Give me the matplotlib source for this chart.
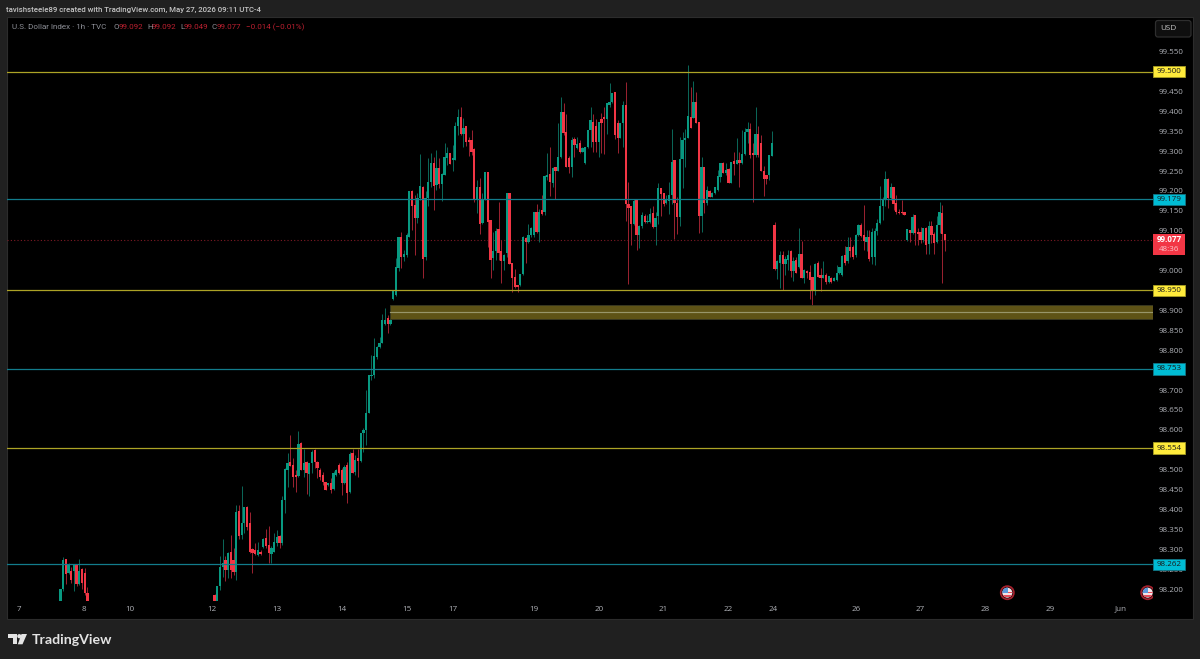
import matplotlib
matplotlib.use('Agg')
import matplotlib.pyplot as plt
import numpy as np
from matplotlib.patches import Circle, FancyBboxPatch, Polygon, Rectangle

# May 7-8 session, hourly bars
start_a = -59
opens_a = [98.168, 98.199, 98.275, 98.240, 98.246, 98.246, 98.263, 98.213, 98.250, 98.240, 98.189]
highs_a = [98.200, 98.281, 98.275, 98.266, 98.255, 98.262, 98.263, 98.275, 98.252, 98.252, 98.206]
lows_a = [98.168, 98.195, 98.213, 98.238, 98.215, 98.194, 98.208, 98.210, 98.199, 98.185, 98.168]
closes_a = [98.199, 98.273, 98.238, 98.263, 98.223, 98.260, 98.213, 98.246, 98.215, 98.189, 98.168]

# May 12 onward, hourly bars
start_b = -2
opens_b = [
    98.185, 98.168, 98.208, 98.255, 98.273, 98.248, 98.294, 98.273, 98.244, 98.397,
    98.336, 98.367, 98.407, 98.365, 98.300, 98.297, 98.286, 98.294, 98.305, 98.327,
    98.311, 98.288, 98.294, 98.315, 98.333, 98.315, 98.424, 98.499, 98.518, 98.512,
    98.486, 98.484, 98.568, 98.499, 98.520, 98.489, 98.516, 98.549, 98.520, 98.499,
    98.486, 98.470, 98.461, 98.466, 98.451, 98.487, 98.512, 98.499, 98.467, 98.512,
    98.445, 98.541, 98.495, 98.528, 98.522, 98.591, 98.600, 98.643, 98.735, 98.738,
    98.784, 98.807, 98.819, 98.866, 98.880, 98.866,
    98.928, 98.939, 99.006, 99.084, 99.033, 99.039, 99.085, 99.201, 99.165, 99.131,
    99.182, 99.211, 99.035, 99.182, 99.223, 99.271, 99.215, 99.257, 99.218, 99.240,
    99.282, 99.295, 99.278, 99.278, 99.364, 99.385, 99.343, 99.362, 99.328, 99.328,
    99.305, 99.177, 99.211, 99.119, 99.177, 99.247, 99.127, 99.031, 99.048, 99.104,
    99.048, 99.023, 99.044, 99.194, 99.020, 98.985, 98.964, 98.964, 98.991, 99.081,
    99.073, 99.090, 99.090, 99.146, 99.098, 99.151, 99.146, 99.234, 99.243, 99.221,
    99.259, 99.249, 99.285, 99.399, 99.349, 99.282, 99.259, 99.330, 99.307, 99.320,
    99.299, 99.270, 99.310, 99.352, 99.374, 99.362, 99.322, 99.382, 99.385, 99.380,
    99.416, 99.423, 99.448, 99.370, 99.332, 99.370,
    99.416, 99.167, 99.161, 99.117, 99.177, 99.090, 99.112, 99.138, 99.121, 99.121,
    99.144, 99.110, 99.137, 99.207, 99.196, 99.169, 99.175, 99.190, 99.278, 99.169,
    99.134, 99.280, 99.328, 99.332, 99.387, 99.383, 99.424, 99.372, 99.137, 99.259,
    99.169, 99.201, 99.186, 99.194, 99.203, 99.236, 99.269, 99.244, 99.254, 99.221,
    99.275, 99.268, 99.278, 99.270, 99.293, 99.349, 99.355, 99.295, 99.290, 99.343,
    99.320, 99.251, 99.240, 99.240, 99.288,
    99.115, 99.003, 99.020, 99.039, 99.017, 99.027, 99.050, 99.000, 99.027, 99.008,
    99.042, 98.981, 99.000, 98.997, 98.983, 98.951, 99.020, 98.989, 98.981, 98.989,
    98.972, 98.981, 98.975, 98.977, 98.993, 98.989, 99.039, 99.023, 99.060, 99.060,
    99.038, 99.090, 99.115, 99.090, 99.073, 99.085, 99.033, 99.035, 99.100, 99.120,
    99.161, 99.179, 99.229, 99.182, 99.209, 99.171, 99.148, 99.148, 99.146,
    99.077, 99.102, 99.095, 99.140, 99.098, 99.097, 99.077, 99.108, 99.067, 99.112,
    99.092, 99.071, 99.115, 99.144, 99.092,
]
highs_b = [
    98.187, 98.208, 98.283, 98.325, 98.283, 98.294, 98.336, 98.302, 98.411, 98.411,
    98.459, 98.407, 98.408, 98.394, 98.302, 98.315, 98.319, 98.297, 98.328, 98.350,
    98.358, 98.307, 98.340, 98.348, 98.336, 98.434, 98.503, 98.541, 98.587, 98.528,
    98.499, 98.598, 98.570, 98.553, 98.522, 98.516, 98.549, 98.551, 98.522, 98.503,
    98.495, 98.470, 98.467, 98.478, 98.496, 98.502, 98.516, 98.503, 98.511, 98.520,
    98.545, 98.553, 98.537, 98.553, 98.591, 98.604, 98.700, 98.737, 98.788, 98.830,
    98.811, 98.834, 98.891, 98.905, 98.888, 98.880,
    98.951, 99.031, 99.085, 99.096, 99.052, 99.094, 99.200, 99.203, 99.190, 99.194,
    99.293, 99.213, 99.201, 99.282, 99.295, 99.286, 99.303, 99.282, 99.244, 99.320,
    99.310, 99.295, 99.315, 99.372, 99.405, 99.410, 99.383, 99.363, 99.335, 99.352,
    99.307, 99.228, 99.232, 99.194, 99.247, 99.247, 99.127, 99.098, 99.106, 99.172,
    99.077, 99.041, 99.194, 99.194, 99.020, 99.004, 98.964, 98.991, 99.087, 99.085,
    99.117, 99.110, 99.148, 99.167, 99.154, 99.190, 99.240, 99.295, 99.311, 99.259,
    99.259, 99.370, 99.435, 99.420, 99.393, 99.288, 99.335, 99.336, 99.335, 99.328,
    99.311, 99.310, 99.353, 99.412, 99.393, 99.380, 99.374, 99.395, 99.410, 99.422,
    99.470, 99.445, 99.448, 99.378, 99.370, 99.427,
    99.473, 99.223, 99.161, 99.179, 99.177, 99.115, 99.146, 99.142, 99.140, 99.156,
    99.161, 99.148, 99.219, 99.208, 99.196, 99.190, 99.222, 99.355, 99.278, 99.186,
    99.335, 99.349, 99.355, 99.516, 99.460, 99.477, 99.448, 99.372, 99.285, 99.259,
    99.213, 99.203, 99.198, 99.211, 99.253, 99.271, 99.274, 99.270, 99.257, 99.274,
    99.299, 99.332, 99.299, 99.353, 99.357, 99.374, 99.370, 99.321, 99.412, 99.362,
    99.341, 99.263, 99.240, 99.290, 99.351,
    99.123, 99.027, 99.050, 99.048, 99.037, 99.052, 99.052, 99.035, 99.035, 99.106,
    99.075, 99.003, 99.002, 99.014, 98.985, 99.018, 99.023, 99.006, 99.023, 98.995,
    98.987, 98.983, 98.983, 99.014, 99.008, 99.039, 99.062, 99.085, 99.085, 99.064,
    99.091, 99.116, 99.119, 99.165, 99.102, 99.102, 99.106, 99.106, 99.129, 99.213,
    99.184, 99.251, 99.232, 99.219, 99.211, 99.190, 99.155, 99.177, 99.147,
    99.104, 99.102, 99.141, 99.140, 99.108, 99.110, 99.106, 99.110, 99.125, 99.125,
    99.098, 99.136, 99.173, 99.165, 99.092,
]
lows_b = [
    98.160, 98.165, 98.198, 98.231, 98.221, 98.227, 98.227, 98.235, 98.223, 98.325,
    98.325, 98.340, 98.348, 98.290, 98.240, 98.286, 98.283, 98.286, 98.302, 98.302,
    98.265, 98.265, 98.292, 98.307, 98.302, 98.311, 98.390, 98.457, 98.509, 98.457,
    98.445, 98.482, 98.499, 98.482, 98.439, 98.434, 98.491, 98.505, 98.478, 98.474,
    98.461, 98.449, 98.459, 98.441, 98.449, 98.484, 98.489, 98.436, 98.465, 98.415,
    98.441, 98.491, 98.487, 98.482, 98.520, 98.545, 98.562, 98.641, 98.725, 98.729,
    98.779, 98.805, 98.817, 98.863, 98.844, 98.864,
    98.925, 98.936, 99.000, 99.006, 99.023, 99.035, 99.085, 99.102, 99.039, 99.119,
    99.177, 98.981, 99.027, 99.161, 99.211, 99.152, 99.203, 99.207, 99.175, 99.240,
    99.265, 99.268, 99.251, 99.278, 99.341, 99.341, 99.311, 99.313, 99.288, 99.290,
    99.173, 99.144, 99.092, 99.117, 99.177, 99.060, 98.981, 99.002, 99.027, 99.027,
    98.970, 99.002, 99.035, 99.017, 98.947, 98.956, 98.946, 98.962, 98.989, 99.018,
    99.069, 99.085, 99.085, 99.094, 99.073, 99.140, 99.140, 99.228, 99.188, 99.211,
    99.179, 99.249, 99.282, 99.341, 99.259, 99.246, 99.236, 99.286, 99.305, 99.296,
    99.297, 99.268, 99.307, 99.311, 99.299, 99.299, 99.286, 99.295, 99.293, 99.343,
    99.412, 99.420, 99.330, 99.295, 99.332, 99.311,
    99.125, 98.967, 99.064, 99.115, 99.052, 99.056, 99.106, 99.119, 99.119, 99.119,
    99.106, 99.064, 99.117, 99.137, 99.162, 99.167, 99.142, 99.167, 99.079, 99.092,
    99.112, 99.207, 99.260, 99.332, 99.357, 99.383, 99.370, 99.094, 99.098, 99.144,
    99.165, 99.184, 99.184, 99.193, 99.201, 99.223, 99.244, 99.241, 99.219, 99.219,
    99.240, 99.268, 99.211, 99.268, 99.290, 99.320, 99.282, 99.173, 99.286, 99.286,
    99.249, 99.188, 99.218, 99.228, 99.288,
    99.002, 98.978, 98.956, 98.951, 98.989, 99.002, 98.985, 98.975, 98.993, 99.006,
    98.981, 98.970, 98.981, 98.928, 98.914, 98.939, 98.985, 98.949, 98.981, 98.967,
    98.970, 98.970, 98.973, 98.975, 98.992, 98.987, 99.014, 99.020, 99.035, 99.029,
    99.035, 99.087, 99.085, 99.052, 99.050, 99.025, 99.017, 99.014, 99.090, 99.117,
    99.127, 99.161, 99.156, 99.177, 99.152, 99.142, 99.143, 99.142, 99.139,
    99.074, 99.073, 99.092, 99.064, 99.064, 99.070, 99.073, 99.042, 99.042, 99.069,
    99.042, 99.069, 99.094, 98.970, 99.049,
]
closes_b = [
    98.165, 98.208, 98.256, 98.265, 98.248, 98.291, 98.248, 98.244, 98.393, 98.333,
    98.365, 98.405, 98.357, 98.294, 98.290, 98.288, 98.297, 98.288, 98.326, 98.307,
    98.290, 98.302, 98.317, 98.332, 98.315, 98.424, 98.502, 98.516, 98.509, 98.482,
    98.482, 98.564, 98.499, 98.516, 98.491, 98.516, 98.545, 98.520, 98.503, 98.482,
    98.470, 98.449, 98.466, 98.449, 98.492, 98.499, 98.491, 98.466, 98.507, 98.441,
    98.539, 98.491, 98.524, 98.522, 98.591, 98.600, 98.643, 98.737, 98.737, 98.785,
    98.809, 98.819, 98.876, 98.876, 98.866, 98.876,
    98.951, 99.008, 99.084, 99.033, 99.042, 99.090, 99.200, 99.161, 99.131, 99.182,
    99.213, 99.028, 99.182, 99.223, 99.269, 99.213, 99.257, 99.218, 99.243, 99.285,
    99.295, 99.268, 99.282, 99.364, 99.385, 99.343, 99.357, 99.324, 99.324, 99.299,
    99.177, 99.211, 99.117, 99.177, 99.247, 99.123, 99.027, 99.048, 99.100, 99.044,
    99.023, 99.039, 99.194, 99.017, 98.981, 98.960, 98.960, 98.991, 99.085, 99.073,
    99.090, 99.106, 99.146, 99.098, 99.148, 99.142, 99.238, 99.240, 99.223, 99.257,
    99.249, 99.285, 99.399, 99.345, 99.261, 99.261, 99.328, 99.316, 99.318, 99.299,
    99.309, 99.310, 99.352, 99.378, 99.322, 99.322, 99.372, 99.370, 99.380, 99.420,
    99.423, 99.445, 99.341, 99.332, 99.370, 99.416,
    99.167, 99.157, 99.117, 99.176, 99.090, 99.112, 99.140, 99.121, 99.124, 99.142,
    99.109, 99.131, 99.208, 99.192, 99.167, 99.177, 99.190, 99.274, 99.169, 99.134,
    99.280, 99.328, 99.332, 99.388, 99.359, 99.424, 99.370, 99.137, 99.259, 99.169,
    99.203, 99.186, 99.196, 99.209, 99.238, 99.269, 99.246, 99.253, 99.221, 99.274,
    99.268, 99.278, 99.270, 99.293, 99.349, 99.355, 99.290, 99.290, 99.343, 99.290,
    99.251, 99.229, 99.229, 99.290, 99.321,
    99.003, 99.025, 99.039, 99.017, 99.029, 99.039, 99.000, 99.024, 98.993, 99.042,
    98.981, 99.002, 98.993, 98.977, 98.951, 99.017, 98.985, 98.981, 98.989, 98.972,
    98.987, 98.972, 98.981, 98.995, 99.008, 99.037, 99.020, 99.060, 99.050, 99.035,
    99.090, 99.115, 99.087, 99.075, 99.085, 99.029, 99.098, 99.100, 99.120, 99.161,
    99.179, 99.229, 99.182, 99.211, 99.167, 99.146, 99.144, 99.144, 99.140,
    99.104, 99.095, 99.135, 99.094, 99.092, 99.077, 99.106, 99.064, 99.113, 99.090,
    99.069, 99.115, 99.146, 99.092, 99.077,
]

# horizontal levels
yellow_levels = [99.500, 98.950, 98.554]
cyan_levels = [99.179, 98.753, 98.262]
last_price = 99.077
countdown = '48:36'
zone_low = 98.878
zone_high = 98.914
zone_start = 63

# scale labels that the price tags do not sit on top of
price_ticks = [99.55, 99.45, 99.40, 99.35, 99.30, 99.25, 99.20, 99.15, 99.10, 99.00,
               98.90, 98.85, 98.80, 98.70, 98.65, 98.60, 98.50, 98.45, 98.40,
               98.35, 98.30, 98.25, 98.20]
time_ticks = [-74.3, -50.3, -33.3, -3, 21, 45, 69, 86, 116, 140, 164, 188, 204.4, 235, 259, 283, 307, 333]
time_labels = ['7', '8', '10', '12', '13', '14', '15', '17', '19', '20', '21', '22', '24', '26', '27',
               '28', '29', 'Jun']

UP = '#089981'
DOWN = '#F23645'
UP_WICK = '#0A6557'
DOWN_WICK = '#98212F'
YELLOW_LINE = '#ADA326'
CYAN_LINE = '#127C8C'
FONT = 'Open Sans'
SCALE_SIZE = 5.8
W, H = 1200, 659


def fx(x):
    return x / W


def fy(y):
    return 1 - y / H


def draw_candles(ax, start, opens, highs, lows, closes):
    opens = np.array(opens)
    closes = np.array(closes)
    x = start + np.arange(len(opens))
    is_up = closes >= opens
    wick_colors = [UP_WICK if u else DOWN_WICK for u in is_up]
    body_colors = [UP if u else DOWN for u in is_up]
    ax.vlines(x, lows, highs, colors=wick_colors, linewidth=0.72, zorder=3)
    height = np.maximum(np.abs(closes - opens), 0.002)
    ax.bar(x, height, bottom=np.minimum(opens, closes), width=0.84, color=body_colors, linewidth=0, zorder=4)


def draw_flag(ov, cx, cy):
    ov.add_patch(Circle((cx, cy), 6.6, fc='#1b0609', ec='#A5202C', lw=1.2, zorder=2))
    disc = Circle((cx, cy), 5.0, fc='#F4E3E6', ec='none', zorder=3)
    ov.add_patch(disc)
    for off in (-1.2, 2.6):
        stripe = Rectangle((cx - 6, cy + off), 12, 1.5, fc='#E8505E', ec='none', zorder=4)
        ov.add_patch(stripe)
        stripe.set_clip_path(disc)
    canton = Rectangle((cx - 6, cy - 6), 6.5, 6, fc='#5B9BDC', ec='none', zorder=5)
    ov.add_patch(canton)
    canton.set_clip_path(disc)


fig = plt.figure(figsize=(W / 100, H / 100), dpi=100, facecolor='#202020')
fig.add_artist(Rectangle((fx(7), fy(619)), fx(1186), 602 / H, transform=fig.transFigure,
                         fc='black', ec='#2c2c2c', lw=0.8, zorder=-1))

ax = fig.add_axes([fx(7), fy(601), fx(1146), 584 / H])
ax.patch.set_visible(False)
for side in ax.spines.values():
    side.set_visible(False)
ax.set_xlim(-78.74, 344.9)
ax.set_ylim(98.170, 99.637)

draw_candles(ax, start_a, opens_a, highs_a, lows_a, closes_a)
draw_candles(ax, start_b, opens_b, highs_b, lows_b, closes_b)

for level in yellow_levels:
    ax.axhline(level, color=YELLOW_LINE, lw=0.9, zorder=5)
for level in cyan_levels:
    ax.axhline(level, color=CYAN_LINE, lw=0.9, zorder=5)
ax.axhline(last_price, color='#7E1A25', lw=0.8, ls=(0, (1, 2)), zorder=2)

# supply zone with its midline
zone_mid = (zone_low + zone_high) / 2
ax.add_patch(Rectangle((zone_start, zone_low), ax.get_xlim()[1] - zone_start, zone_high - zone_low,
                       fc='#5E5316', ec='#3a3a22', lw=0.6, zorder=6))
ax.plot([zone_start, ax.get_xlim()[1]], [zone_mid, zone_mid], color='#98966A', lw=0.85, zorder=7)

ax.yaxis.tick_right()
ax.set_yticks(price_ticks, [f'{p:.3f}' for p in price_ticks])
ax.set_xticks(time_ticks, time_labels)
ax.tick_params(axis='y', length=0, pad=4.3, labelsize=SCALE_SIZE, labelcolor='#B0B2B8')
ax.tick_params(axis='x', length=0, pad=3.4, labelsize=SCALE_SIZE, labelcolor='#B0B2B8')
for lbl in ax.get_yticklabels() + ax.get_xticklabels():
    lbl.set_fontfamily(FONT)

# price tags on the scale
tag_x = 32 / 1146
ymap = ax.get_yaxis_transform()
for levels, face, edge in ((yellow_levels, '#FFEB3B', '#A89E22'), (cyan_levels, '#00BCD4', '#117585')):
    for level in levels:
        ax.add_patch(Rectangle((1.0, level - 0.0142), tag_x, 0.0284, transform=ymap, clip_on=False,
                               fc=face, ec=edge, lw=0.6, zorder=8))
        ax.text(1 + tag_x / 2, level, f'{level:.3f}', transform=ymap, ha='center', va='center',
                fontsize=SCALE_SIZE, color='#1a1a1a', family=FONT, zorder=9)
ax.add_patch(Rectangle((1.0, 99.040), tag_x, 0.051, transform=ymap, clip_on=False, fc=DOWN, ec='none', zorder=8))
ax.text(1 + tag_x / 2, last_price, f'{last_price:.3f}', transform=ymap, ha='center', va='center',
        fontsize=SCALE_SIZE, color='white', fontweight='bold', family=FONT, zorder=9)
ax.text(1 + tag_x / 2, 99.054, countdown, transform=ymap, ha='center', va='center',
        fontsize=SCALE_SIZE, color='#FBC4CA', family=FONT, zorder=9)

# overlay in pixel space for the chrome around the chart
ov = fig.add_axes([0, 0, 1, 1], zorder=5)
ov.set_xlim(0, W)
ov.set_ylim(H, 0)
ov.axis('off')

draw_flag(ov, 1007.3, 592.7)
draw_flag(ov, 1147.7, 592.7)
ov.add_patch(Rectangle((1153, 580), 5, 26, fc='black', ec='none', zorder=6))

ov.add_patch(FancyBboxPatch((1155.5, 20.5), 35.5, 16.5, boxstyle='round,pad=0,rounding_size=2.5',
                            fc='#0F0F0F', ec='#2E2E2E', lw=0.9))
ov.text(1168, 29, 'USD', ha='center', va='center', fontsize=5.9, color='#C4C4C4', family=FONT)

ov.text(6.5, 9.5, 'tavishsteele89 created with TradingView.com, May 27, 2026 09:11 UTC-4', ha='left', va='center',
        fontsize=5.6, color='#C6C6C6', family='Roboto', fontweight='medium')

grey = '#8E9098'
red = '#BC2030'
legend_y = 27
ov.text(12, legend_y, 'U.S. Dollar Index · 1h · TVC', ha='left', va='center', fontsize=5.75, color=grey, family='Roboto')
for x, s, c in [(113, 'O', grey), (119, '99.092', red), (147, 'H', grey), (152, '99.092', red), (180, 'L', grey),
                (184, '99.049', red), (212, 'C', grey), (217, '99.077', red), (246, '−0.014 (−0.01%)', red)]:
    ov.text(x, legend_y, s, ha='left', va='center', fontsize=5.75, color=c, family='Roboto')

# footer logo
logo = '#E4E4E4'
ov.add_patch(Polygon([(8, 634), (17, 634), (17, 644.3), (12.5, 644.3), (12.5, 638.2), (8, 638.2)], fc=logo, ec='none'))
ov.add_patch(Circle((19.3, 636.2), 2.1, fc=logo, ec='none'))
ov.add_patch(Polygon([(21.5, 634), (27, 634), (22.5, 644.3), (17.8, 644.3)], fc=logo, ec='none'))
ov.text(32, 639.5, 'TradingView', ha='left', va='center', fontsize=10.2, color=logo, family='Lato', fontweight='bold')

fig.savefig('out.png', dpi=100, facecolor=fig.get_facecolor())
